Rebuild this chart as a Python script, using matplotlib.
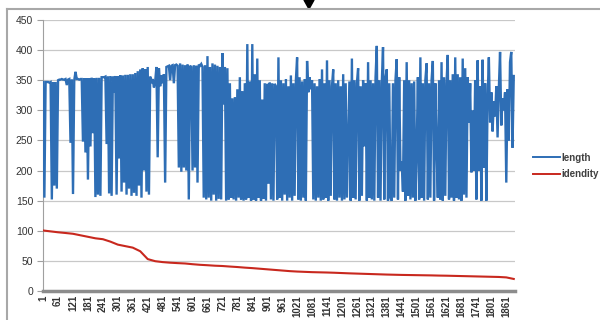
import matplotlib
matplotlib.use("Agg")
import matplotlib.pyplot as plt
from matplotlib.lines import Line2D
from matplotlib.patches import Polygon

plt.rcParams["font.family"] = ["Liberation Sans", "DejaVu Sans"]

# ---- data ----
length_step = 5       # length series sampled every 5th record
identity_step = 30    # identity series sampled every 30th record

length = [
    347, 155, 347, 347, 347, 346, 347, 152, 347, 175, 347, 170, 350,
    351, 351, 352, 351, 351, 352, 342, 351, 352, 246, 351, 161, 350, 364,
    352, 352, 351, 352, 352,
    248, 353, 230, 353, 185, 353, 240, 354, 262,
    353, 156, 354, 160, 354, 158, 355,
    355, 355, 356,
    244, 356, 162, 357, 158, 356, 330, 357, 160,
    357, 220, 358, 165, 358, 180, 359, 160, 359, 170, 360, 158, 360, 163,
    362, 158, 365, 175, 368, 155, 370, 200, 368, 165, 372,
    160, 356, 345, 352, 338, 348,
    372, 222, 370, 340, 358, 345, 360, 180, 372,
    373, 374, 350, 374, 375, 345, 375, 376, 374,
    205, 378, 198, 376, 205, 375, 200, 376,
    152, 374, 372, 200, 375, 205, 374, 180, 376, 374, 377, 372,
    155, 375, 152, 390, 155, 372, 150, 378, 160, 376, 150, 374, 153, 372,
    152, 395, 310, 372, 150, 370,
    152, 345, 155, 320, 152, 322,
    150, 335, 155, 355, 152, 332, 150, 345, 152, 410, 155, 348, 150, 410,
    152, 360, 150, 386, 155, 350, 150, 318, 153, 345, 150, 344, 178, 346,
    152, 345, 150, 344,
    340, 152, 388, 155, 350, 150, 345, 160, 352, 150, 340, 155, 358, 150,
    345, 158, 350, 388, 152, 355, 150, 348, 155, 352, 150, 382, 330, 355,
    335, 350, 152, 345, 150, 340, 155, 352, 150, 368, 152, 345, 155, 383,
    150, 350, 158, 340, 368, 152, 345, 150, 350, 155, 340, 150, 360, 152,
    345, 155, 250, 348, 150, 386, 155, 350, 152, 345, 370, 150, 340, 158,
    350, 240, 345, 150, 380, 155, 350, 152, 345, 150, 355, 407, 155, 350,
    150, 345, 405, 152, 355, 368, 150, 345, 155,
    150, 345, 155, 350, 385, 152, 355, 200, 215, 165, 350, 150, 380, 158,
    350, 152, 345, 155, 348, 150, 230, 355, 152, 388, 155, 345, 150, 350,
    378, 152, 345, 155, 350, 382, 150, 345, 240, 155, 350, 152, 380, 150,
    355, 158, 345, 392, 152, 350, 155, 360, 150, 388, 155, 360, 152, 355,
    150, 386, 160, 370, 155, 355, 280, 345, 197, 300, 200, 350, 152, 383,
    200, 340, 150, 384, 205, 345,
    150, 320, 388, 280, 330, 265, 315, 290, 340, 255, 335, 397, 275, 320,
    300, 330, 180, 335, 250, 380, 397, 238, 357,
]

identity = [
    100.5, 99.0, 97.5, 96.3, 95.0, 92.5, 90.0, 87.5, 86.0, 82.0,
    77.0, 74.5, 72.0, 66.0, 53.0, 49.5, 48.0, 47.0, 46.3, 45.7,
    44.5, 43.5, 42.8, 42.0, 41.5, 40.6, 39.8, 38.8, 38.0, 37.0,
    36.0, 35.0, 34.0, 33.0, 32.3, 31.8, 31.3, 31.0, 30.7, 30.3,
    29.8, 29.3, 28.9, 28.5, 28.1, 27.7, 27.3, 27.0, 26.7, 26.5,
    26.3, 26.1, 25.9, 25.6, 25.4, 25.1, 24.8, 24.5, 24.2, 23.9,
    23.6, 23.3, 22.6, 20.0,
]

length_x = [1 + length_step * k for k in range(len(length))]
identity_x = [1 + identity_step * m for m in range(len(identity))]

xtick_labels = [str(v) for v in range(1, 1862, 60)]
yticks = [0, 50, 100, 150, 200, 250, 300, 350, 400, 450]
series_names = ["length", "idendity"]

# ---- figure ----
W, H = 600, 320
fig = plt.figure(figsize=(W / 100, H / 100), dpi=100)
fig.patch.set_facecolor("white")

ax = fig.add_axes([43 / W, (H - 291) / H, (515 - 43) / W, (291 - 20) / H])

blue = "#2e6eb5"
red = "#c8281e"
ax.plot(length_x, length, color=blue, lw=1.7, solid_joinstyle="miter",
        label=series_names[0], zorder=3)
ax.plot(identity_x, identity, color=red, lw=1.5, label=series_names[1], zorder=4)

ax.set_xlim(0.5, 1896)
ax.set_ylim(0, 450)
ax.set_yticks(yticks)
ax.set_yticklabels([str(v) for v in yticks])
ax.set_xticks([int(s) for s in xtick_labels])
ax.set_xticklabels(xtick_labels, rotation=90)

ax.grid(axis="y", color="#c8c8c8", lw=0.9, zorder=0)
ax.set_axisbelow(True)
for s in ["top", "right"]:
    ax.spines[s].set_visible(False)
ax.spines["left"].set_color("#a0a0a0")
ax.spines["left"].set_linewidth(0.8)
ax.spines["bottom"].set_color("#8c8c8c")
ax.spines["bottom"].set_linewidth(2.5)

ax.tick_params(axis="y", length=4, width=0.8, color="#a0a0a0",
               labelsize=7.5, labelcolor="#333333", pad=3)
ax.tick_params(axis="x", length=0, labelsize=7, labelcolor="#333333", pad=3)
for lab in ax.get_xticklabels():
    lab.set_fontweight("bold")

leg = ax.legend(loc="center left", bbox_to_anchor=(531 / W, 1 - 166 / H),
                bbox_transform=fig.transFigure, frameon=False,
                handlelength=2.8, handletextpad=0.15, labelspacing=0.7,
                borderpad=0.2, borderaxespad=0,
                prop={"size": 7, "weight": "bold"})
for t in leg.get_texts():
    t.set_color("#404040")
for h in leg.get_lines():
    h.set_linewidth(1.4)

# outer chart frame and the small arrow above it
fig.add_artist(Line2D([7 / W, 1], [1 - 9 / H, 1 - 9 / H], transform=fig.transFigure,
                      color="#a8a8a8", lw=1.5))
fig.add_artist(Line2D([7 / W, 7 / W], [0, 1 - 9 / H], transform=fig.transFigure,
                      color="#a8a8a8", lw=1.5))
fig.add_artist(Polygon([[304 / W, 1], [314 / W, 1], [309 / W, 1 - 9 / H]],
                       closed=True, transform=fig.transFigure, color="black"))

fig.savefig("out.png", dpi=100)
